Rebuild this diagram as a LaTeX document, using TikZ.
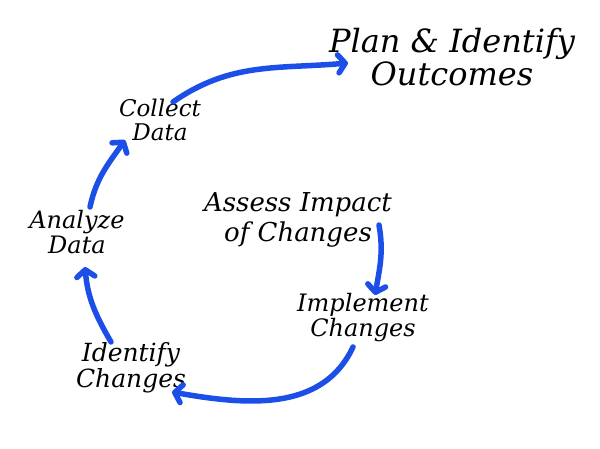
\documentclass[tikz,border=0pt]{standalone}
\usepackage{fontspec}
\setmainfont{DejaVu Serif}
\usetikzlibrary{arrows.meta}
\definecolor{arrowblue}{RGB}{28,78,232}
\tikzset{
  label/.style={font=\itshape, align=center, inner sep=1pt},
  flow/.style={draw=arrowblue, line width=5.5pt, line cap=round,
    -{Straight Barb[length=7pt,width=18pt,round]}}
}
\begin{document}
\begin{tikzpicture}[x=1pt,y=1pt]
\useasboundingbox (0,0) rectangle (600,448);
% stages
\node[label, font=\itshape\fontsize{32}{33}\selectfont] (plan) at (452,391) {Plan \& Identify\\Outcomes};
\node[label, font=\itshape\fontsize{23}{24}\selectfont] (collect) at (160,328) {Collect\\Data};
\node[label, font=\itshape\fontsize{24}{25}\selectfont] (analyze) at (77,216) {Analyze\\Data};
\node[label, font=\itshape\fontsize{26}{30}\selectfont] (assess) at (298,228) {Assess Impact\\of Changes};
\node[label, font=\itshape\fontsize{24}{25}\selectfont] (implement) at (363,130) {Implement\\Changes};
\node[label, font=\itshape\fontsize{25}{26}\selectfont] (identify) at (131,80) {Identify\\Changes};
% cycle
\draw[flow] ([shift={(13,18)}]collect.center) to[out=35,in=185] ([shift={(-104,-6)}]plan.center);
\draw[flow] ([shift={(13,25)}]analyze.center) to[out=78,in=235] ([shift={(-35,-20)}]collect.center);
\draw[flow] ([shift={(-20,26)}]identify.center) to[out=120,in=-85] ([shift={(8,-35)}]analyze.center);
\draw[flow] ([shift={(-10,-29)}]implement.center) to[out=-115,in=-10] ([shift={(41,-24)}]identify.center);
\draw[flow] ([shift={(81,-5)}]assess.center) to[out=-80,in=80] ([shift={(12,23)}]implement.center);
\end{tikzpicture}
\end{document}
